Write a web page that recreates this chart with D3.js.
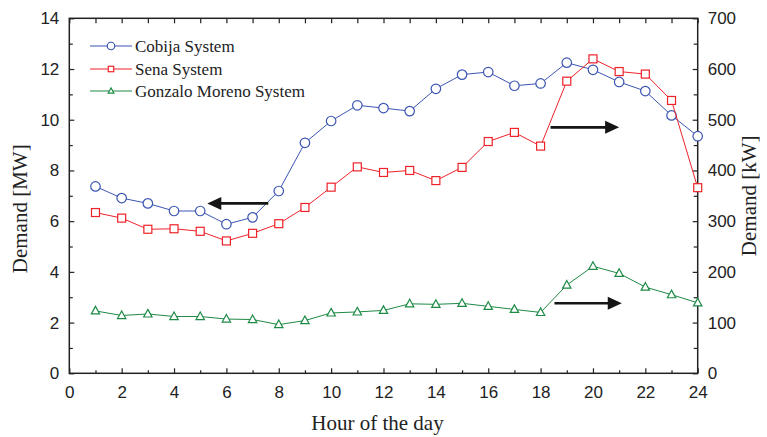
<!DOCTYPE html>
<html>
<head>
<meta charset="utf-8">
<script src="https://cdn.jsdelivr.net/npm/d3@7"></script>
<style>
  html, body { margin: 0; padding: 0; background: #fff; }
  svg { display: block; }
</style>
</head>
<body>
<svg id="chart" width="767" height="437"></svg>
<script>
// Hourly demand profiles
const hours = d3.range(1, 25);
const cobijaMW = [7.37, 6.91, 6.70, 6.40, 6.40, 5.88, 6.15, 7.19, 9.09, 9.95, 10.57, 10.46,
                  10.34, 11.22, 11.78, 11.88, 11.34, 11.43, 12.25, 11.97, 11.49, 11.13, 10.17, 9.35];
const senaKW = [317, 306, 284, 285, 280, 261, 276, 295, 327, 367, 407, 396,
                400, 380, 406, 457, 475, 448, 576, 620, 595, 590, 538, 366];
const gonzaloKW = [123, 114, 117, 112, 112, 107, 106, 96, 104, 119, 121, 124,
                   137, 136, 138, 132, 126, 120, 174, 211, 197, 170, 155, 139];

const seriesNames = ["Cobija System", "Sena System", "Gonzalo Moreno System"];
const seriesColors = ["#3b55b3", "#ee2229", "#1e8a46"];
const xTicks = d3.range(0, 25, 2);
const leftTicks = d3.range(0, 15, 2);
const rightTicks = d3.range(0, 701, 100);

const svg = d3.select("#chart");
const plotLeft = 69.3, plotRight = 697.7, plotTop = 18.3, plotBottom = 373.3;

const x = d3.scaleLinear().domain([0, 24]).range([plotLeft, plotRight]);
const yL = d3.scaleLinear().domain([0, 14]).range([plotBottom, plotTop]);
const yR = d3.scaleLinear().domain([0, 700]).range([plotBottom, plotTop]);

const sans = "'Liberation Sans', Arial, sans-serif";
const serif = "'Liberation Serif', 'Times New Roman', serif";
const ink = "#222";

// Axes with inward ticks
function styleAxis(g) {
  g.select(".domain").remove();
  g.selectAll("line").attr("stroke", ink).attr("stroke-width", 1.2);
  g.selectAll("text").attr("font-family", sans).attr("font-size", 17).attr("fill", ink);
}

// bottom: minor ticks at odd hours, major labelled at even hours
svg.append("g").attr("transform", `translate(0,${plotBottom})`)
  .call(d3.axisBottom(x).tickValues(d3.range(1, 24, 2)).tickSize(-3).tickFormat(""))
  .call(styleAxis);
svg.append("g").attr("transform", `translate(0,${plotBottom})`)
  .call(d3.axisBottom(x).tickValues(xTicks).tickSize(-5).tickPadding(13).tickFormat(d3.format("d")))
  .call(styleAxis);

// top: tick at every hour
svg.append("g").attr("transform", `translate(0,${plotTop})`)
  .call(d3.axisTop(x).tickValues(d3.range(0, 25, 1)).tickSize(-5).tickFormat(""))
  .call(styleAxis);

// left (MW)
svg.append("g").attr("transform", `translate(${plotLeft},0)`)
  .call(d3.axisLeft(yL).tickValues(d3.range(1, 14, 2)).tickSize(-3.5).tickFormat(""))
  .call(styleAxis);
svg.append("g").attr("transform", `translate(${plotLeft},0)`)
  .call(d3.axisLeft(yL).tickValues(leftTicks).tickSize(-5).tickPadding(10).tickFormat(d3.format("d")))
  .call(styleAxis);

// right (kW)
svg.append("g").attr("transform", `translate(${plotRight},0)`)
  .call(d3.axisRight(yR).tickValues(d3.range(50, 700, 100)).tickSize(-4).tickFormat(""))
  .call(styleAxis);
svg.append("g").attr("transform", `translate(${plotRight},0)`)
  .call(d3.axisRight(yR).tickValues(rightTicks).tickSize(-5).tickPadding(10).tickFormat(d3.format("d")))
  .call(styleAxis);

// frame
svg.append("rect")
  .attr("x", plotLeft).attr("y", plotTop)
  .attr("width", plotRight - plotLeft).attr("height", plotBottom - plotTop)
  .attr("fill", "none").attr("stroke", ink).attr("stroke-width", 1.5);

// axis titles
svg.append("text")
  .attr("transform", `translate(27,${(plotTop + plotBottom) / 2 + 13}) rotate(-90)`)
  .attr("text-anchor", "middle")
  .attr("font-family", serif).attr("font-size", 21).attr("fill", ink)
  .text("Demand [MW]");
svg.append("text")
  .attr("transform", `translate(756,${(plotTop + plotBottom) / 2}) rotate(-90)`)
  .attr("text-anchor", "middle")
  .attr("font-family", serif).attr("font-size", 21).attr("fill", ink)
  .text("Demand [kW]");
svg.append("text")
  .attr("x", (plotLeft + plotRight) / 2 - 6).attr("y", 430)
  .attr("text-anchor", "middle")
  .attr("font-family", serif).attr("font-size", 21).attr("fill", ink)
  .text("Hour of the day");

// series
const series = [
  { values: cobijaMW, y: yL, color: seriesColors[0], shape: "circle" },
  { values: senaKW, y: yR, color: seriesColors[1], shape: "square" },
  { values: gonzaloKW, y: yR, color: seriesColors[2], shape: "triangle" }
];

function marker(g, shape, color, size) {
  if (shape === "circle") {
    g.append("circle").attr("r", size / 2)
      .attr("fill", "#fff").attr("stroke", color).attr("stroke-width", 1.2);
  } else if (shape === "square") {
    g.append("rect").attr("x", -size * 0.42).attr("y", -size * 0.42)
      .attr("width", size * 0.84).attr("height", size * 0.84)
      .attr("fill", "#fff").attr("stroke", color).attr("stroke-width", 1.2);
  } else {
    const h = size * 0.8;
    g.append("path")
      .attr("d", `M0,${-h * 0.6}L${h * 0.55},${h * 0.4}L${-h * 0.55},${h * 0.4}Z`)
      .attr("fill", "#fff").attr("stroke", color).attr("stroke-width", 1.2);
  }
}

series.forEach(s => {
  const line = d3.line().x((d, i) => x(hours[i])).y(d => s.y(d));
  svg.append("path").datum(s.values)
    .attr("d", line).attr("fill", "none")
    .attr("stroke", s.color).attr("stroke-width", 1);
  s.values.forEach((v, i) => {
    const g = svg.append("g").attr("transform", `translate(${x(hours[i])},${s.y(v)})`);
    marker(g, s.shape, s.color, 9.5);
  });
});

// legend
const legend = svg.append("g");
const legendRows = [46, 69, 91];
series.forEach((s, i) => {
  const ly = legendRows[i];
  legend.append("line").attr("x1", 90).attr("x2", 132).attr("y1", ly).attr("y2", ly)
    .attr("stroke", s.color).attr("stroke-width", 1);
  const g = legend.append("g").attr("transform", `translate(111,${ly})`);
  marker(g, s.shape, s.color, i === 0 ? 7.5 : 6.5);
  legend.append("text").attr("x", 135).attr("y", ly + 6)
    .attr("font-family", serif).attr("font-size", 17).attr("fill", ink)
    .text(seriesNames[i]);
});

// arrows pointing to each series' axis
const arrows = [
  { from: [7.6, 6.70], to: [5.27, 6.70], y: yL },
  { from: [18.38, 485], to: [21.0, 485], y: yR },
  { from: [18.53, 138], to: [21.1, 138], y: yR }
];
arrows.forEach(a => {
  const x1 = x(a.from[0]), y1 = a.y(a.from[1]);
  const x2 = x(a.to[0]), y2 = a.y(a.to[1]);
  const dir = Math.sign(x2 - x1);
  const headLen = 14, headHalf = 6.5;
  svg.append("line")
    .attr("x1", x1).attr("y1", y1).attr("x2", x2 - dir * headLen * 0.8).attr("y2", y2)
    .attr("stroke", "#151515").attr("stroke-width", 2.6);
  svg.append("path")
    .attr("d", `M${x2},${y2}L${x2 - dir * headLen},${y2 - headHalf}L${x2 - dir * headLen},${y2 + headHalf}Z`)
    .attr("fill", "#151515");
});
</script>
</body>
</html>
